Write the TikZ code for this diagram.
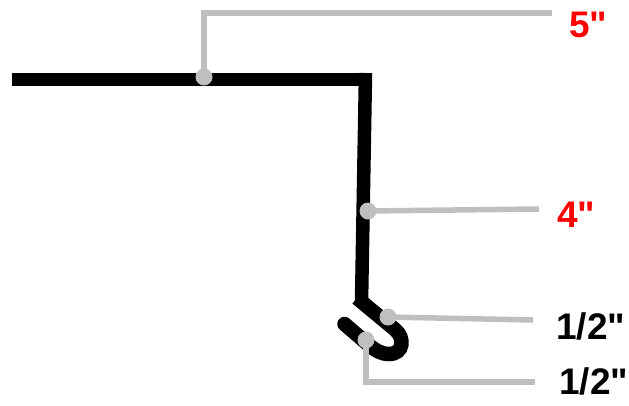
\documentclass[tikz,border=0pt]{standalone}
\usepackage{fontspec}
\newfontfamily\labelfont{Liberation Sans}
\definecolor{leadgray}{HTML}{BFBFBF}
\tikzset{
  profile/.style={draw=black,line width=13.5pt,line join=miter},
  hook/.style={draw=black,line width=14.5pt,line join=miter},
  lead/.style={draw=leadgray,line width=5.5pt,line join=miter},
  dot/.style={circle,fill=leadgray,minimum size=17pt,inner sep=0pt,outer sep=0pt},
  dim/.style={font=\labelfont\bfseries\fontsize{37}{37}\selectfont,inner sep=0pt,anchor=base west},
}
\begin{document}
\begin{tikzpicture}[x=1pt,y=-1pt]
\useasboundingbox (0,0) rectangle (629,405);
% profile
\coordinate (p1) at (12,79.5);
\coordinate (p2) at (365.5,79.5);
\coordinate (p3) at (361.5,303);
\draw[profile] (p1) -- (372,79.5);
\draw[profile] (365.5,73) -- (p3);
\draw[hook] (357,298) -- (395,329.5)
  .. controls (405,337.5) and (404,354) .. (389,354)
  .. controls (381,354) and (375,350) .. (370,346);
\draw[hook,line cap=round] (370,346) -- (344.5,324);
% leaders
\coordinate (c1) at (204,13);
\coordinate (e1) at (552,13);
\coordinate (e2) at (539,209);
\coordinate (e3) at (533,320);
\coordinate (c4) at (366,382);
\coordinate (e4) at (535,382);
\node[dot] (d1) at (204,77) {};
\node[dot] (d2) at (368,211) {};
\node[dot] (d3) at (388,317) {};
\node[dot] (d4) at (366,340) {};
\draw[lead] (d1.center) -- (c1) -- (e1);
\draw[lead] (d2.center) -- (e2);
\draw[lead] (d3.center) -- (e3);
\draw[lead] (d4.center) -- (c4) -- (e4);
% labels
\node[dim,text=red] (t1) at (569,37) {5"};
\node[dim,text=red] (t2) at (557,227) {4"};
\node[dim] (t3) at (556,339) {1/2"};
\node[dim] (t4) at (559,394) {1/2"};
\end{tikzpicture}
\end{document}
